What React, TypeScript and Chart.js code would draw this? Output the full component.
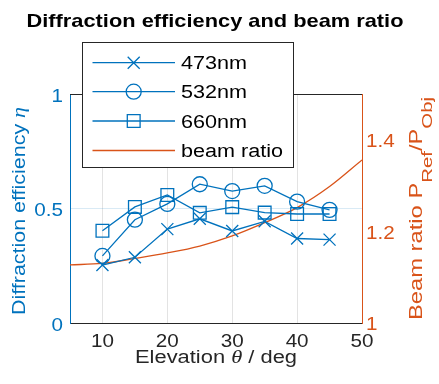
import React, { useEffect, useRef } from 'react';
import { Chart, registerables } from 'chart.js';
Chart.register(...registerables);

// ---- data ----
const elevations = [10, 15, 20, 25, 30, 35, 40, 45];
const eff473 = [0.253, 0.287, 0.41, 0.455, 0.402, 0.444, 0.369, 0.364];
const eff532 = [0.293, 0.451, 0.52, 0.606, 0.576, 0.599, 0.53, 0.494];
const eff660 = [0.403, 0.507, 0.559, 0.481, 0.506, 0.482, 0.476, 0.476];
const beamAngles = [5, 10, 15, 20, 25, 30, 35, 40, 45, 50];
const beamRatio = [1.127, 1.13, 1.141, 1.153, 1.168, 1.19, 1.219, 1.252, 1.298, 1.356];
const xTicks = [10, 20, 30, 40, 50];
const leftTicks = [0, 0.5, 1];
const rightTicks = [1, 1.2, 1.4];
const leftTickLabels = ['0', '0.5', '1'];
const rightTickLabels = ['1', '1.2', '1.4'];
const seriesNames = ['473nm', '532nm', '660nm', 'beam ratio'];
const titleText = 'Diffraction efficiency and beam ratio';

const BLUE = '#0072BD';
const ORANGE = '#D95319';
const AX = '#262626';
const FONT = '"Liberation Sans", Arial, Helvetica, sans-serif';
const SERIF = '"Liberation Serif", "DejaVu Serif", serif';

type Part = { t: string; font: string; dy?: number };

function drawParts(
  ctx: CanvasRenderingContext2D,
  parts: Part[],
  x: number,
  y: number,
  color: string,
  align: 'left' | 'center' | 'right',
  opts: { rot?: number; sx?: number; width?: number } = {}
) {
  ctx.save();
  let total = 0;
  const widths: number[] = [];
  for (const p of parts) {
    ctx.font = p.font;
    const w = ctx.measureText(p.t).width;
    widths.push(w);
    total += w;
  }
  const sx = opts.width ? opts.width / total : opts.sx ?? 1;
  ctx.translate(x, y);
  if (opts.rot) ctx.rotate(opts.rot);
  ctx.scale(sx, 1);
  ctx.fillStyle = color;
  ctx.textAlign = 'left';
  ctx.textBaseline = 'alphabetic';
  let cx = align === 'center' ? -total / 2 : align === 'right' ? -total : 0;
  parts.forEach((p, i) => {
    ctx.font = p.font;
    ctx.fillText(p.t, cx, p.dy ?? 0);
    cx += widths[i];
  });
  ctx.restore();
}

function marker(ctx: CanvasRenderingContext2D, kind: string, x: number, y: number) {
  ctx.beginPath();
  if (kind === 'cross') {
    const d = 6;
    ctx.moveTo(x - d, y - d);
    ctx.lineTo(x + d, y + d);
    ctx.moveTo(x + d, y - d);
    ctx.lineTo(x - d, y + d);
  } else if (kind === 'circle') {
    ctx.arc(x, y, 7.5, 0, Math.PI * 2);
  } else if (kind === 'rect') {
    ctx.rect(x - 6.4, y - 6.4, 12.8, 12.8);
  }
  ctx.stroke();
}

const overlay = {
  id: 'overlay',
  afterDraw(chart: any) {
    const ctx: CanvasRenderingContext2D = chart.ctx;
    const a = chart.chartArea;
    const sx = chart.scales.x;
    const sy = chart.scales.y;
    const sy1 = chart.scales.y1;

    // top border
    ctx.save();
    ctx.strokeStyle = AX;
    ctx.lineWidth = 1;
    ctx.beginPath();
    ctx.moveTo(a.left, a.top + 0.5);
    ctx.lineTo(a.right, a.top + 0.5);
    ctx.stroke();
    ctx.restore();

    const tickFont = `17.5px ${FONT}`;
    // x tick labels
    xTicks.forEach((v) => {
      drawParts(ctx, [{ t: String(v), font: tickFont }], sx.getPixelForValue(v), a.bottom + 24, AX, 'center', { sx: 1.18 });
    });
    // left tick labels
    leftTicks.forEach((v, i) => {
      drawParts(ctx, [{ t: leftTickLabels[i], font: tickFont }], a.left - 7, sy.getPixelForValue(v) + 7.5, BLUE, 'right', { sx: 1.18 });
    });
    // right tick labels
    rightTicks.forEach((v, i) => {
      drawParts(ctx, [{ t: rightTickLabels[i], font: tickFont }], a.right + 4, sy1.getPixelForValue(v) + 7.2, ORANGE, 'left', { sx: 1.18 });
    });

    // x title
    drawParts(
      ctx,
      [
        { t: 'Elevation ', font: `17.5px ${FONT}` },
        { t: 'θ', font: `italic 18px ${SERIF}` },
        { t: ' / deg', font: `17.5px ${FONT}` },
      ],
      (a.left + a.right) / 2,
      363,
      AX,
      'center',
      { width: 162 }
    );
    // left y title
    drawParts(
      ctx,
      [
        { t: 'Diffraction efficiency ', font: `17.5px ${FONT}` },
        { t: 'η', font: `italic 18px ${SERIF}` },
      ],
      25,
      211,
      BLUE,
      'center',
      { rot: -Math.PI / 2, width: 208 }
    );
    // right y title
    drawParts(
      ctx,
      [
        { t: 'Beam ratio P', font: `17.5px ${FONT}` },
        { t: 'Ref', font: `15px ${FONT}`, dy: 10 },
        { t: '/P', font: `17.5px ${FONT}` },
        { t: 'Obj', font: `15px ${FONT}`, dy: 10 },
      ],
      421.5,
      208.5,
      ORANGE,
      'center',
      { rot: -Math.PI / 2, width: 223 }
    );

    // chart title
    drawParts(ctx, [{ t: titleText, font: `bold 18.5px ${FONT}` }], 215, 27, '#000', 'center', { width: 377 });

    // legend
    const bx = 82.5, by = 42.5, bw = 211, bh = 125;
    ctx.save();
    ctx.fillStyle = '#fff';
    ctx.fillRect(bx, by, bw, bh);
    ctx.strokeStyle = AX;
    ctx.lineWidth = 1;
    ctx.strokeRect(bx, by, bw, bh);
    const rows = [62.7, 91.7, 121, 150.5];
    const kinds = ['cross', 'circle', 'rect', 'none'];
    rows.forEach((ry, i) => {
      const col = i === 3 ? ORANGE : BLUE;
      ctx.strokeStyle = col;
      ctx.lineWidth = 1.3;
      ctx.beginPath();
      ctx.moveTo(92.5, ry);
      ctx.lineTo(175, ry);
      ctx.stroke();
      if (kinds[i] !== 'none') marker(ctx, kinds[i], 133.7, ry);
      drawParts(ctx, [{ t: seriesNames[i], font: `18px ${FONT}` }], 181, ry + 6.6, '#000', 'left', { sx: 1.2 });
    });
    ctx.restore();
  },
};

export default function App() {
  const ref = useRef<HTMLCanvasElement | null>(null);
  useEffect(() => {
    if (!ref.current) return;
    const common = {
      borderColor: BLUE,
      backgroundColor: 'rgba(0,0,0,0)',
      pointBackgroundColor: 'rgba(0,0,0,0)',
      pointBorderColor: BLUE,
      borderWidth: 1.3,
      pointBorderWidth: 1.3,
      yAxisID: 'y',
      tension: 0,
    };
    const chart = new Chart(ref.current, {
      type: 'line',
      data: {
        datasets: [
          {
            ...common,
            label: seriesNames[0],
            data: elevations.map((x, i) => ({ x, y: eff473[i] })),
            pointStyle: 'crossRot',
            pointRadius: 8.5,
          },
          {
            ...common,
            label: seriesNames[1],
            data: elevations.map((x, i) => ({ x, y: eff532[i] })),
            pointStyle: 'circle',
            pointRadius: 7.5,
          },
          {
            ...common,
            label: seriesNames[2],
            data: elevations.map((x, i) => ({ x, y: eff660[i] })),
            pointStyle: 'rect',
            pointRadius: 9,
          },
          {
            label: seriesNames[3],
            data: beamAngles.map((x, i) => ({ x, y: beamRatio[i] })),
            borderColor: ORANGE,
            backgroundColor: 'rgba(0,0,0,0)',
            borderWidth: 1.3,
            pointRadius: 0,
            yAxisID: 'y1',
            cubicInterpolationMode: 'monotone',
          },
        ] as any,
      },
      options: {
        animation: false,
        responsive: false,
        devicePixelRatio: 1,
        layout: { padding: { top: 94, left: 0, right: 0, bottom: 0 } },
        plugins: { legend: { display: false }, title: { display: false }, tooltip: { enabled: false } },
        scales: {
          x: {
            type: 'linear',
            min: 5,
            max: 50,
            afterBuildTicks: (s: any) => {
              s.ticks = xTicks.map((v) => ({ value: v }));
            },
            afterFit: (s: any) => {
              s.height = 61;
            },
            ticks: { display: false },
            grid: { color: '#e3e3e3', drawTicks: false, lineWidth: 1 },
            border: { color: AX, width: 1 },
          },
          y: {
            type: 'linear',
            position: 'left',
            min: 0,
            max: 1,
            afterBuildTicks: (s: any) => {
              s.ticks = leftTicks.map((v) => ({ value: v }));
            },
            afterFit: (s: any) => {
              s.width = 70;
            },
            ticks: { display: false },
            grid: { color: 'rgba(0,114,189,0.15)', drawTicks: false },
            border: { color: BLUE, width: 1 },
          },
          y1: {
            type: 'linear',
            position: 'right',
            min: 1,
            max: 1.5,
            afterBuildTicks: (s: any) => {
              s.ticks = rightTicks.map((v) => ({ value: v }));
            },
            afterFit: (s: any) => {
              s.width = 77;
            },
            ticks: { display: false },
            grid: { display: false, drawTicks: false },
            border: { color: ORANGE, width: 1 },
          },
        },
      } as any,
      plugins: [overlay],
    });
    return () => chart.destroy();
  }, []);
  return (
    <div style={{ position: 'fixed', left: 0, top: 0, width: 439, height: 384, background: '#fff' }}>
      <canvas ref={ref} width={439} height={384} style={{ width: 439, height: 384, display: 'block' }} />
    </div>
  );
}
